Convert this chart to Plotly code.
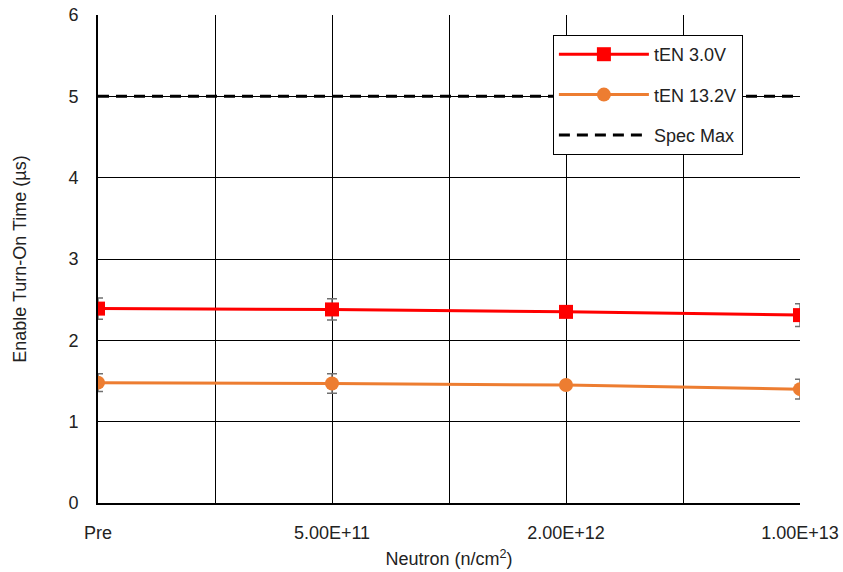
import plotly.graph_objects as go

categories = ["Pre", "5.00E+11", "2.00E+12", "1.00E+13"]
ten_3v0 = [2.39, 2.38, 2.35, 2.31]
ten_3v0_err = [0.13, 0.13, 0.04, 0.14]
ten_13v2 = [1.48, 1.47, 1.45, 1.40]
ten_13v2_err = [0.11, 0.12, 0.04, 0.12]
spec_max = [5, 5, 5, 5]

xpos = list(range(len(categories)))
FONT = "Liberation Sans, Arial, sans-serif"

fig = go.Figure()
fig.add_trace(go.Scatter(
    x=xpos, y=ten_3v0, name="tEN 3.0V", mode="lines+markers",
    line=dict(color="#FF0000", width=3),
    marker=dict(symbol="square", size=14, color="#FF0000"),
    error_y=dict(type="data", array=ten_3v0_err, color="#707070", thickness=1.5, width=5),
    legendgroup="a",
))
fig.add_trace(go.Scatter(
    x=xpos, y=ten_13v2, name="tEN 13.2V", mode="lines+markers",
    line=dict(color="#ED7D31", width=3),
    marker=dict(symbol="circle", size=14, color="#ED7D31"),
    error_y=dict(type="data", array=ten_13v2_err, color="#707070", thickness=1.5, width=5),
    legendgroup="b",
))
fig.add_trace(go.Scatter(
    x=xpos, y=spec_max, name="Spec Max", mode="lines",
    line=dict(color="#000000", width=3, dash="11px,7px"),
    legendgroup="c",
))

fig.update_layout(
    width=843, height=572,
    margin=dict(l=98, r=43, t=15, b=69),
    paper_bgcolor="white", plot_bgcolor="white",
    font=dict(family=FONT, size=18, color="#222222"),
    showlegend=True,
    legend=dict(
        x=0.648, y=0.959, xanchor="left", yanchor="top",
        bgcolor="white", bordercolor="black", borderwidth=1,
        font=dict(family=FONT, size=18, color="#222222"),
        tracegroupgap=14, itemwidth=90, entrywidth=210,
    ),
)
fig.update_xaxes(
    range=[0, 3], tickmode="array", tickvals=xpos, ticktext=categories,
    showgrid=True, gridcolor="black", gridwidth=1,
    minor=dict(tickvals=[0.5, 1.5, 2.5], showgrid=True, gridcolor="black", gridwidth=1),
    showline=True, linecolor="black", linewidth=2,
    ticks="", ticklabelstandoff=12, zeroline=False, automargin=False,
    tickfont=dict(size=18),
    title=dict(text="Neutron (n/cm<sup>2</sup>)", font=dict(size=18), standoff=11),
)
fig.update_yaxes(
    range=[0, 6], dtick=1, showgrid=True, gridcolor="black", gridwidth=1,
    showline=True, linecolor="black", linewidth=2,
    ticks="", ticklabelstandoff=14, zeroline=False, automargin=False,
    tickfont=dict(size=18),
    title=dict(text="Enable Turn-On Time (µs)", font=dict(size=18), standoff=37),
)

fig.write_html("out.html", config={"displayModeBar": False},
               post_script="document.body.style.margin='0';")
